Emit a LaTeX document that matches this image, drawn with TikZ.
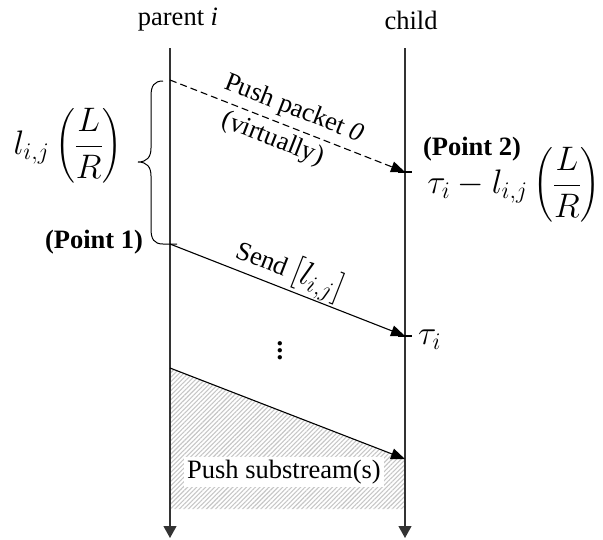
\RequirePackage{fix-cm}
\documentclass[tikz,border=0pt]{standalone}
\usepackage{amsmath}
\usepackage{fontspec}
\setmainfont{Liberation Serif}
\usetikzlibrary{arrows.meta,patterns,patterns.meta}
\newcommand\mbig[1]{{\fontsize{34}{40}\selectfont$#1$}}
\begin{document}
\begin{tikzpicture}[x=1pt,y=-1pt,
  lbl/.style={font=\fontsize{26.5}{31}\selectfont, inner sep=0pt},
  life/.style={line width=1.2pt, draw=black!80, -{Triangle[length=12pt,width=13pt]}},
  msg/.style={line width=1.1pt, -{Triangle[length=14pt,width=11pt]}},
  stub/.style={line width=1.1pt}]
\useasboundingbox (0,0) rectangle (603,539);
% lifelines
\coordinate (ptop) at (170,48);
\coordinate (pbot) at (170,538);
\coordinate (ctop) at (405,48);
\coordinate (cbot) at (405,538);
% message points
\coordinate (d0) at (170,80);
\coordinate (d1) at (405,172);
\coordinate (s0) at (170,244);
\coordinate (s1) at (405,336);
\coordinate (h0) at (170,368);
\coordinate (h1) at (405,459);
\coordinate (h2) at (405,509);
\coordinate (h3) at (170,509);
% hatched region
\fill[pattern={Lines[angle=45,distance=3.2pt,line width=1.1pt]}, pattern color=gray!45] (h0) -- (h1) -- (h2) -- (h3) -- cycle;
\node[lbl, fill=white, inner sep=3pt] (ps) at (284,472) {Push substream(s)};
% labels
\node[lbl] (par) at (178,20) {parent \textit{i}};
\node[lbl] (chi) at (411,20) {child};
\draw[life] (ptop) -- (pbot);
\draw[life] (ctop) -- (cbot);
% dashed message
\draw[msg, dashed, dash pattern=on 7pt off 4pt] (d0) -- (d1)
  node[pos=0.5, sloped, inner sep=0pt, align=center,
       font=\fontsize{26.5}{36}\selectfont] (pp) {Push packet \textit{0}\\(virtually)\hspace*{18pt}};
\draw[stub] ([xshift=-7pt]d1) -- ([xshift=7pt]d1);
% send message
\draw[msg] (s0) -- (s1)
  node[lbl, pos=0.48, sloped, above, inner sep=1pt] (sd) {Send \mbig{[l_{i,j}]}};
\draw[stub] ([xshift=-7pt]s1) -- ([xshift=7pt]s1);
% substream message
\draw[msg] (h0) -- (h1);
% brace
\coordinate (bt) at (163,81);
\coordinate (bb) at (163,244);
\draw[line width=1pt] (bt) .. controls (154,81) and (151,86) .. (151,96) -- (151,148)
  .. controls (151,157) and (147,162) .. (138,162)
  .. controls (147,162) and (151,167) .. (151,176) -- (151,229)
  .. controls (151,239) and (154,244) .. (bb) -- (177,244);
% math labels
\node[lbl] (lij) at (68,146) {\mbig{\displaystyle l_{i,j}\left(\frac{L}{R}\right)}};
\node[lbl, font=\fontsize{26.5}{31}\selectfont\bfseries] (p1) at (94,242) {(Point 1)};
\node[lbl, font=\fontsize{26.5}{31}\selectfont\bfseries] (p2) at (472,149) {(Point 2)};
\node[lbl] (tl) at (514,185) {\mbig{\displaystyle \tau_i - l_{i,j}\left(\frac{L}{R}\right)}};
\node[lbl, anchor=west] (ti) at (418,340) {\mbig{\tau_i}};
\node[lbl, align=center, font=\fontsize{26.5}{7}\selectfont\bfseries] (dots) at (280,351) {.\\.\\.};
\end{tikzpicture}
\end{document}
